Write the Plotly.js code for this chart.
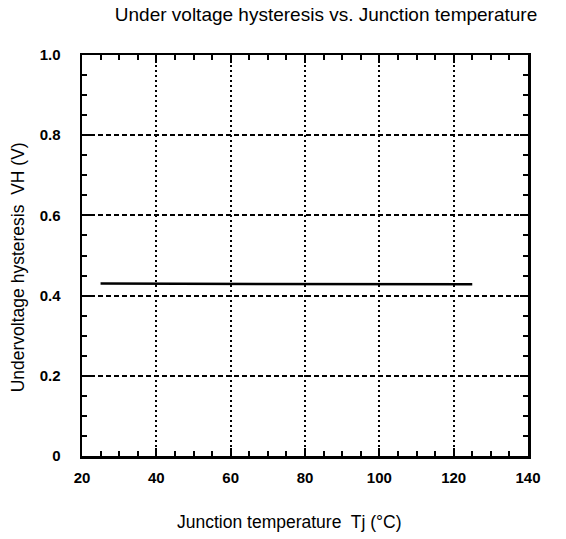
<!DOCTYPE html>
<html>
<head>
<meta charset="utf-8">
<script src="https://cdn.plot.ly/plotly-3.0.1.min.js"></script>
<style>html,body{margin:0;padding:0;background:#fff;}#chart{width:566px;height:539px;}</style>
</head>
<body>
<div id="chart"></div>
<script>
const tempC = [25, 125];
const hysteresisV = [0.43, 0.428];
const xTickVals = [20, 40, 60, 80, 100, 120, 140];
const xTickText = ["20", "40", "60", "80", "100", "120", "140"];
const yTickVals = [0, 0.2, 0.4, 0.6, 0.8, 1.0];
const yTickText = ["0", "0.2", "0.4", "0.6", "0.8", "1.0"];

const font = "Liberation Sans, Arial, sans-serif";

const trace = {
  x: tempC,
  y: hysteresisV,
  mode: "lines",
  line: {color: "#000", width: 2.5},
  hoverinfo: "skip",
  showlegend: false
};

const axisCommon = {
  showline: true,
  linecolor: "#000",
  linewidth: 2.5,
  mirror: "allticks",
  ticks: "inside",
  ticklen: 8,
  tickwidth: 2,
  tickcolor: "#000",
  showgrid: true,
  gridcolor: "#000",
  gridwidth: 2,
  zeroline: false,
  tickfont: {family: font, size: 15, color: "#000", weight: "bold"}
};

const layout = {
  width: 566,
  height: 539,
  margin: {l: 82, r: 38, t: 55, b: 83},
  paper_bgcolor: "#fff",
  plot_bgcolor: "#fff",
  title: {
    text: "Under voltage hysteresis vs. Junction temperature",
    font: {family: font, size: 19, color: "#000"},
    x: 0.576, xanchor: "center", y: 0.974, yanchor: "middle"
  },
  xaxis: Object.assign({}, axisCommon, {
    range: [20, 140],
    tickmode: "array",
    tickvals: xTickVals,
    ticktext: xTickText,
    ticklabelstandoff: 6,
    griddash: "2px,3px",
    minor: {dtick: 5, tick0: 20, ticks: "inside", ticklen: 5, tickwidth: 2, tickcolor: "#000", showgrid: false}
  }),
  yaxis: Object.assign({}, axisCommon, {
    range: [0, 1.0],
    tickmode: "array",
    tickvals: yTickVals,
    ticktext: yTickText,
    ticklabelstandoff: 16,
    griddash: "5px,3px",
    minor: {dtick: 0.05, tick0: 0, ticks: "inside", ticklen: 5, tickwidth: 2, tickcolor: "#000", showgrid: false}
  }),
  annotations: [
    {
      text: "Junction temperature  Tj (°C)",
      xref: "paper", yref: "paper",
      x: 0.466, y: -0.165, xanchor: "center", yanchor: "middle",
      showarrow: false,
      font: {family: font, size: 17.5, color: "#000"}
    },
    {
      text: "Undervoltage hysteresis  VH (V)",
      xref: "paper", yref: "paper",
      x: -0.144, y: 0.47, xanchor: "center", yanchor: "middle",
      textangle: -90,
      showarrow: false,
      font: {family: font, size: 17.5, color: "#000"}
    }
  ]
};

Plotly.newPlot("chart", [trace], layout, {displayModeBar: false, staticPlot: true});
</script>
</body>
</html>
